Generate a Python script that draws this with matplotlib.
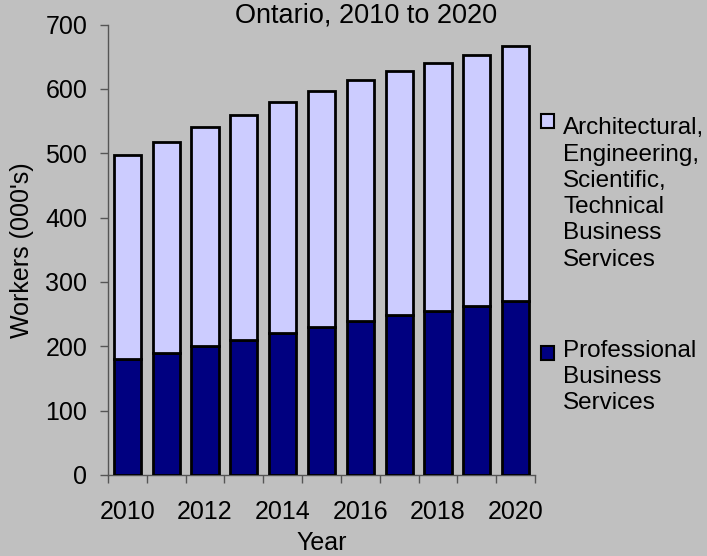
import matplotlib.pyplot as plt
from matplotlib.patches import Rectangle
import numpy as np

# Data (workers, 000's)
years = [2010, 2011, 2012, 2013, 2014, 2015, 2016, 2017, 2018, 2019, 2020]
professional = [180, 190, 200, 210, 220, 230, 240, 248, 255, 263, 270]
architectural = [317, 327, 340, 349, 360, 367, 373, 380, 385, 390, 397]
year_labels = ["2010", "", "2012", "", "2014", "", "2016", "", "2018", "", "2020"]
y_ticks = [0, 100, 200, 300, 400, 500, 600, 700]

# Styling
BG = "#c0c0c0"
DARK = "#000080"
LIGHT = "#ccccff"
SPINE = "#555555"
FONT = "Liberation Sans"
FS = 18

plt.rcParams["font.family"] = [FONT, "DejaVu Sans"]

fig = plt.figure(figsize=(7.07, 5.56), dpi=100, facecolor=BG)
W, H = 707, 556
ax = fig.add_axes([108 / W, (H - 475) / H, (535 - 108) / W, (475 - 24.5) / H])
ax.set_facecolor(BG)

x = np.arange(len(years))
ax.bar(x, professional, width=0.7, color=DARK, edgecolor="black", linewidth=2, zorder=3)
ax.bar(x, architectural, width=0.7, bottom=professional, color=LIGHT,
       edgecolor="black", linewidth=2, zorder=3)

ax.set_xlim(-0.5, len(years) - 0.5)
ax.set_ylim(0, 700)
ax.set_yticks(y_ticks)
ax.set_yticklabels([str(v) for v in y_ticks], fontsize=FS)

# category labels at centres, tick marks at boundaries
ax.set_xticks(x)
ax.set_xticklabels(year_labels, fontsize=FS)
ax.tick_params(axis="x", length=0, pad=18)
ax.set_xticks(np.arange(len(years) + 1) - 0.5, minor=True)
ax.tick_params(axis="x", which="minor", length=6, width=1, color=SPINE, direction="out")
ax.tick_params(axis="y", length=6, width=1, color=SPINE, direction="out", pad=9)

for side in ("top", "right"):
    ax.spines[side].set_visible(False)
for side in ("left", "bottom"):
    ax.spines[side].set_color(SPINE)
    ax.spines[side].set_linewidth(1.0)

ax.set_ylabel("Workers (000's)", fontsize=FS, labelpad=8)
ax.set_xlabel("Year", fontsize=FS, labelpad=5)

fig.text(366 / W, 1 - 15 / H, "Ontario, 2010 to 2020", fontsize=19.5,
         ha="center", va="center")

# legend drawn by hand to mimic the wrapped labels
legend_items = [
    (LIGHT, "Architectural,\nEngineering,\nScientific,\nTechnical\nBusiness\nServices", 114, 194),
    (DARK, "Professional\nBusiness\nServices", 346, 377),
]
for color, label, sq_top, text_mid in legend_items:
    fig.patches.append(Rectangle((541 / W, 1 - (sq_top + 14) / H), 13 / W, 14 / H,
                                 transform=fig.transFigure, facecolor=color,
                                 edgecolor="black", linewidth=1.5))
    fig.text(563 / W, 1 - text_mid / H, label, fontsize=17.5, ha="left",
             va="center", linespacing=1.25)

fig.savefig("out.png", dpi=100, facecolor=BG)
